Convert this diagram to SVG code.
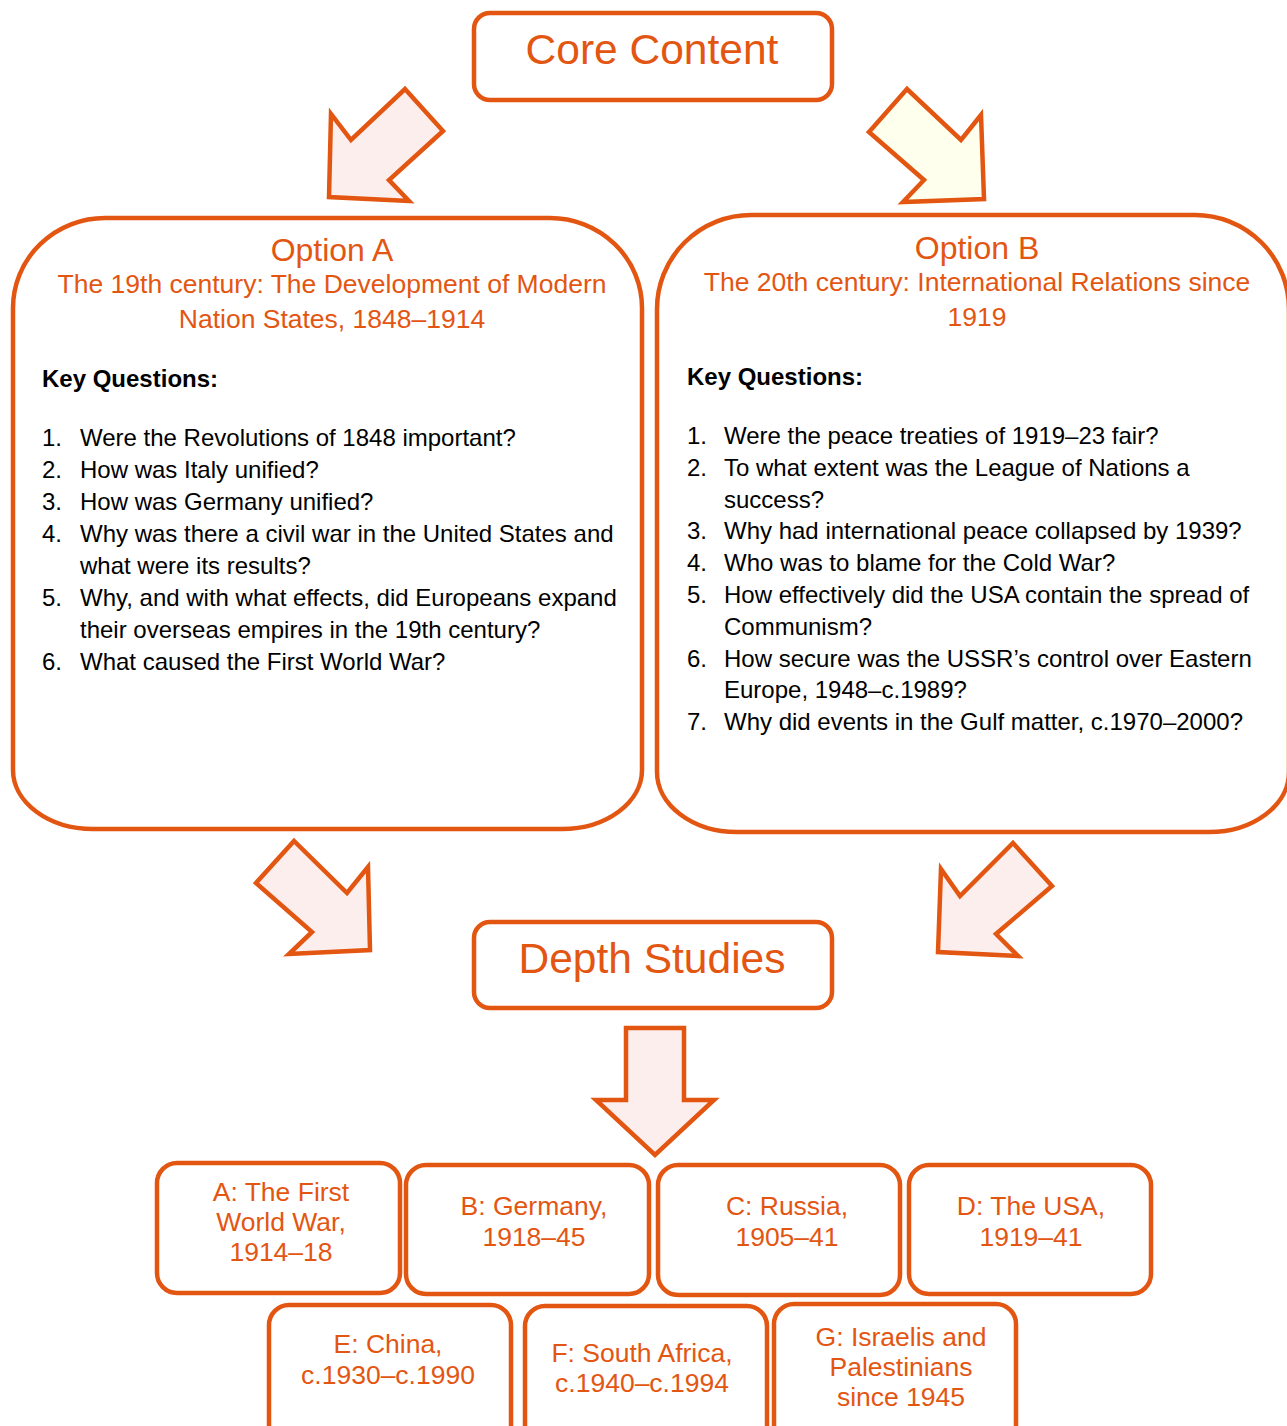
<svg xmlns="http://www.w3.org/2000/svg" width="1287" height="1426" viewBox="0 0 1287 1426">
<style>
.box{fill:#fff;stroke:#E35612;stroke-width:4.5}
.arrow{stroke:#E35612;stroke-width:4.5;stroke-linejoin:miter}
.pink{fill:#FDEEEE}
.yellow{fill:#FEFFEC}
.t{font-family:"Liberation Sans",Arial,sans-serif;fill:#E35612;text-anchor:middle}
.big{font-size:42.5px}
.opt{font-size:32px}
.sub{font-size:26.5px}
.small{font-size:26.5px}
.b{font-family:"Liberation Sans",Arial,sans-serif;font-size:24px;fill:#000}
.kq{font-weight:bold}
</style>
<rect width="1287" height="1426" fill="#fff"/>
<g id="connectors">
<polygon class="arrow pink" points="405,89 443,131 389,180 409,201 329,197 331,114 351,140"/>
<polygon class="arrow yellow" points="907,89 869,132 924,180 903,202 984,199 981,115 961,140"/>
<polygon class="arrow pink" points="294,841 256,883 312,932 289,954 370,950 368,867 347,893"/>
<polygon class="arrow pink" points="1013,843 1052,886 996,934 1018,956 938,952 941,869 960,896"/>
<polygon class="arrow pink" points="626,1028 684,1028 684,1100 714,1100 655,1155 596,1100 626,1100"/>
</g>
<g id="core">
<rect class="box" x="474" y="13" width="358" height="87" rx="16"/>
<text class="t big" x="652" y="64">Core Content</text>
</g>
<g id="optionA">
<path class="box" d="M105,218 H550 A92 90 0 0 1 642,308 V770 A80 59 0 0 1 562,829 H93 A80 59 0 0 1 13,770 V308 A92 90 0 0 1 105,218 Z"/>
<text class="t opt" x="332" y="261">Option A</text>
<text class="t sub" x="332" y="293">The 19th century: The Development of Modern</text>
<text class="t sub" x="332" y="328">Nation States, 1848–1914</text>
<text class="b kq" x="42" y="387">Key Questions:</text>
<text class="b" x="42" y="446">1.</text><text class="b" x="80" y="446">Were the Revolutions of 1848 important?</text>
<text class="b" x="42" y="478">2.</text><text class="b" x="80" y="478">How was Italy unified?</text>
<text class="b" x="42" y="510">3.</text><text class="b" x="80" y="510">How was Germany unified?</text>
<text class="b" x="42" y="542">4.</text><text class="b" x="80" y="542">Why was there a civil war in the United States and</text>
<text class="b" x="80" y="574">what were its results?</text>
<text class="b" x="42" y="606">5.</text><text class="b" x="80" y="606">Why, and with what effects, did Europeans expand</text>
<text class="b" x="80" y="638">their overseas empires in the 19th century?</text>
<text class="b" x="42" y="670">6.</text><text class="b" x="80" y="670">What caused the First World War?</text>
</g>
<g id="optionB">
<path class="box" d="M751,215 H1195 A94 94 0 0 1 1289,309 V772 A80 60 0 0 1 1209,832 H737 A80 60 0 0 1 657,772 V309 A94 94 0 0 1 751,215 Z"/>
<text class="t opt" x="977" y="259">Option B</text>
<text class="t sub" x="977" y="291">The 20th century: International Relations since</text>
<text class="t sub" x="977" y="326">1919</text>
<text class="b kq" x="687" y="385">Key Questions:</text>
<text class="b" x="687" y="444">1.</text><text class="b" x="724" y="444">Were the peace treaties of 1919–23 fair?</text>
<text class="b" x="687" y="476">2.</text><text class="b" x="724" y="476">To what extent was the League of Nations a</text>
<text class="b" x="724" y="508">success?</text>
<text class="b" x="687" y="539">3.</text><text class="b" x="724" y="539">Why had international peace collapsed by 1939?</text>
<text class="b" x="687" y="571">4.</text><text class="b" x="724" y="571">Who was to blame for the Cold War?</text>
<text class="b" x="687" y="603">5.</text><text class="b" x="724" y="603">How effectively did the USA contain the spread of</text>
<text class="b" x="724" y="635">Communism?</text>
<text class="b" x="687" y="667">6.</text><text class="b" x="724" y="667">How secure was the USSR’s control over Eastern</text>
<text class="b" x="724" y="698">Europe, 1948–c.1989?</text>
<text class="b" x="687" y="730">7.</text><text class="b" x="724" y="730">Why did events in the Gulf matter, c.1970–2000?</text>
</g>
<g id="depth">
<rect class="box" x="474" y="922" width="358" height="86" rx="16"/>
<text class="t big" x="652" y="973">Depth Studies</text>
</g>
<g id="studyA">
<rect class="box" x="157" y="1163" width="243" height="130" rx="20"/>
<text class="t small" x="281" y="1201">A: The First</text>
<text class="t small" x="281" y="1231">World War,</text>
<text class="t small" x="281" y="1261">1914–18</text>
</g>
<g id="studyB">
<rect class="box" x="406" y="1165" width="243" height="129" rx="20"/>
<text class="t small" x="534" y="1215">B: Germany,</text>
<text class="t small" x="534" y="1246">1918–45</text>
</g>
<g id="studyC">
<rect class="box" x="658" y="1165" width="242" height="130" rx="20"/>
<text class="t small" x="787" y="1215">C: Russia,</text>
<text class="t small" x="787" y="1246">1905–41</text>
</g>
<g id="studyD">
<rect class="box" x="909" y="1165" width="242" height="129" rx="20"/>
<text class="t small" x="1031" y="1215">D: The USA,</text>
<text class="t small" x="1031" y="1246">1919–41</text>
</g>
<g id="studyE">
<rect class="box" x="269" y="1305" width="242" height="150" rx="20"/>
<text class="t small" x="388" y="1353">E: China,</text>
<text class="t small" x="388" y="1384">c.1930–c.1990</text>
</g>
<g id="studyF">
<rect class="box" x="525" y="1306" width="242" height="150" rx="20"/>
<text class="t small" x="642" y="1362">F: South Africa,</text>
<text class="t small" x="642" y="1392">c.1940–c.1994</text>
</g>
<g id="studyG">
<rect class="box" x="774" y="1304" width="242" height="150" rx="20"/>
<text class="t small" x="901" y="1346">G: Israelis and</text>
<text class="t small" x="901" y="1376">Palestinians</text>
<text class="t small" x="901" y="1406">since 1945</text>
</g>
</svg>
